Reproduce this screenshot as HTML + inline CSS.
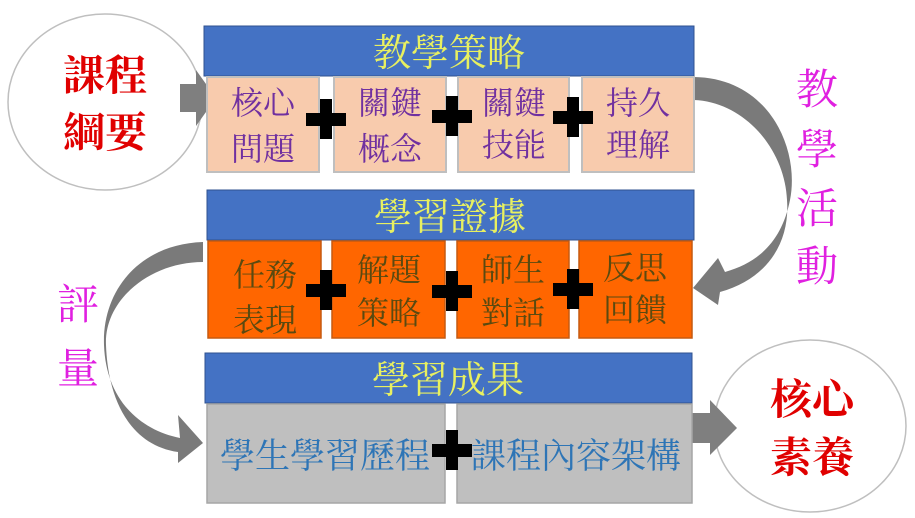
<!DOCTYPE html>
<html><head><meta charset="utf-8"><style>
html,body{margin:0;padding:0;background:#fff;}
svg{display:block;}
text{font-family:"Liberation Serif","Noto Serif CJK SC","Noto Sans CJK TC",serif;}
</style></head><body>
<svg width="915" height="518" viewBox="0 0 915 518" xmlns="http://www.w3.org/2000/svg">
<ellipse cx="105" cy="102" rx="97" ry="88" fill="#fff" stroke="#bfbfbf" stroke-width="1.5"/>
<text x="105" y="90" font-size="42" fill="#e00000" text-anchor="middle" font-weight="bold">課程</text>
<text x="105" y="147" font-size="42" fill="#e00000" text-anchor="middle" font-weight="bold">綱要</text>
<polygon points="180,84 196,84 196,70 216,98 196,126 196,112 180,112" fill="#7f7f7f"/>
<ellipse cx="810" cy="426" rx="96" ry="86" fill="#fff" stroke="#bfbfbf" stroke-width="1.5"/>
<text x="812" y="414" font-size="42" fill="#e00000" text-anchor="middle" font-weight="bold">核心</text>
<text x="812" y="472" font-size="42" fill="#e00000" text-anchor="middle" font-weight="bold">素養</text>
<polygon points="692,413 710,413 710,400 737,428 710,455 710,443 692,443" fill="#7f7f7f"/>

<path d="M694,77 C770,78 800,150 790,200 C782,240 760,262 725,272 L718,258 L693,288 L718,305 L720,292 C770,278 790,240 787,200 C785,150 745,102 694,100 Z" fill="#7a7a7a"/>
<path d="M203,242 C140,244 102,290 104,345 C106,400 140,430 180,438 L178,415 L203,443 L178,463 L178,452 C130,445 108,400 106,345 C104,300 150,262 203,262 Z" fill="#7a7a7a"/>

<g font-size="42" fill="#e020e0" text-anchor="middle">
<text x="817" y="104">教</text>
<text x="817" y="164">學</text>
<text x="817" y="223">活</text>
<text x="817" y="281">動</text>
<text x="78" y="319">評</text>
<text x="78" y="383">量</text>
</g>

<rect x="204" y="26" width="490" height="50" fill="#4472c4" stroke="#2f528f" stroke-width="1"/>
<text x="449" y="66" font-size="38" fill="#e8f060" text-anchor="middle">教學策略</text>
<g fill="#f8cbad" stroke="#bfbfbf" stroke-width="2">
<rect x="207" y="77" width="112" height="95"/><rect x="334" y="77" width="112" height="95"/>
<rect x="458" y="77" width="111" height="95"/><rect x="582" y="77" width="112" height="95"/>
</g>
<g font-size="32" fill="#7030a0" text-anchor="middle">
<text x="263" y="114">核心</text><text x="263" y="160">問題</text>
<text x="390" y="114">關鍵</text><text x="390" y="160">概念</text>
<text x="514" y="114">關鍵</text><text x="514" y="156">技能</text>
<text x="638" y="114">持久</text><text x="638" y="156">理解</text>
</g>

<rect x="207" y="190" width="487" height="50" fill="#4472c4" stroke="#2f528f" stroke-width="1"/>
<text x="450" y="230" font-size="38" fill="#e8f060" text-anchor="middle">學習證據</text>
<g fill="#ff6600" stroke="#c55a11" stroke-width="1.5">
<rect x="208" y="241" width="113" height="97"/><rect x="332" y="241" width="113" height="97"/>
<rect x="457" y="241" width="112" height="97"/><rect x="579" y="241" width="113" height="97"/>
</g>
<g font-size="32" fill="#5a4a10" text-anchor="middle">
<text x="265" y="286">任務</text><text x="265" y="331">表現</text>
<text x="389" y="281">解題</text><text x="389" y="324">策略</text>
<text x="513" y="281">師生</text><text x="513" y="324">對話</text>
<text x="635" y="279">反思</text><text x="635" y="321">回饋</text>
</g>

<rect x="205" y="353" width="487" height="50" fill="#4472c4" stroke="#2f528f" stroke-width="1"/>
<text x="448" y="393" font-size="38" fill="#e8f060" text-anchor="middle">學習成果</text>
<g fill="#bfbfbf" stroke="#a6a6a6" stroke-width="1.5">
<rect x="207" y="404" width="238" height="99"/><rect x="457" y="404" width="235" height="99"/>
</g>
<g font-size="35" fill="#2e75b6" text-anchor="middle">
<text x="325" y="468">學生學習歷程</text>
<text x="576" y="468">課程內容架構</text>
</g>

<g fill="#000">
<rect x="306" y="113" width="40" height="13"/><rect x="320" y="99" width="12" height="40"/>
<rect x="432" y="110" width="40" height="13"/><rect x="446" y="96" width="12" height="40"/>
<rect x="553" y="111" width="40" height="13"/><rect x="567" y="97" width="12" height="40"/>
<rect x="306" y="284" width="40" height="13"/><rect x="320" y="270" width="12" height="40"/>
<rect x="432" y="285" width="40" height="13"/><rect x="446" y="271" width="12" height="40"/>
<rect x="553" y="283" width="40" height="13"/><rect x="567" y="269" width="12" height="40"/>
<rect x="432" y="444" width="40" height="13"/><rect x="446" y="430" width="12" height="40"/>
</g>
</svg>
</body></html>
